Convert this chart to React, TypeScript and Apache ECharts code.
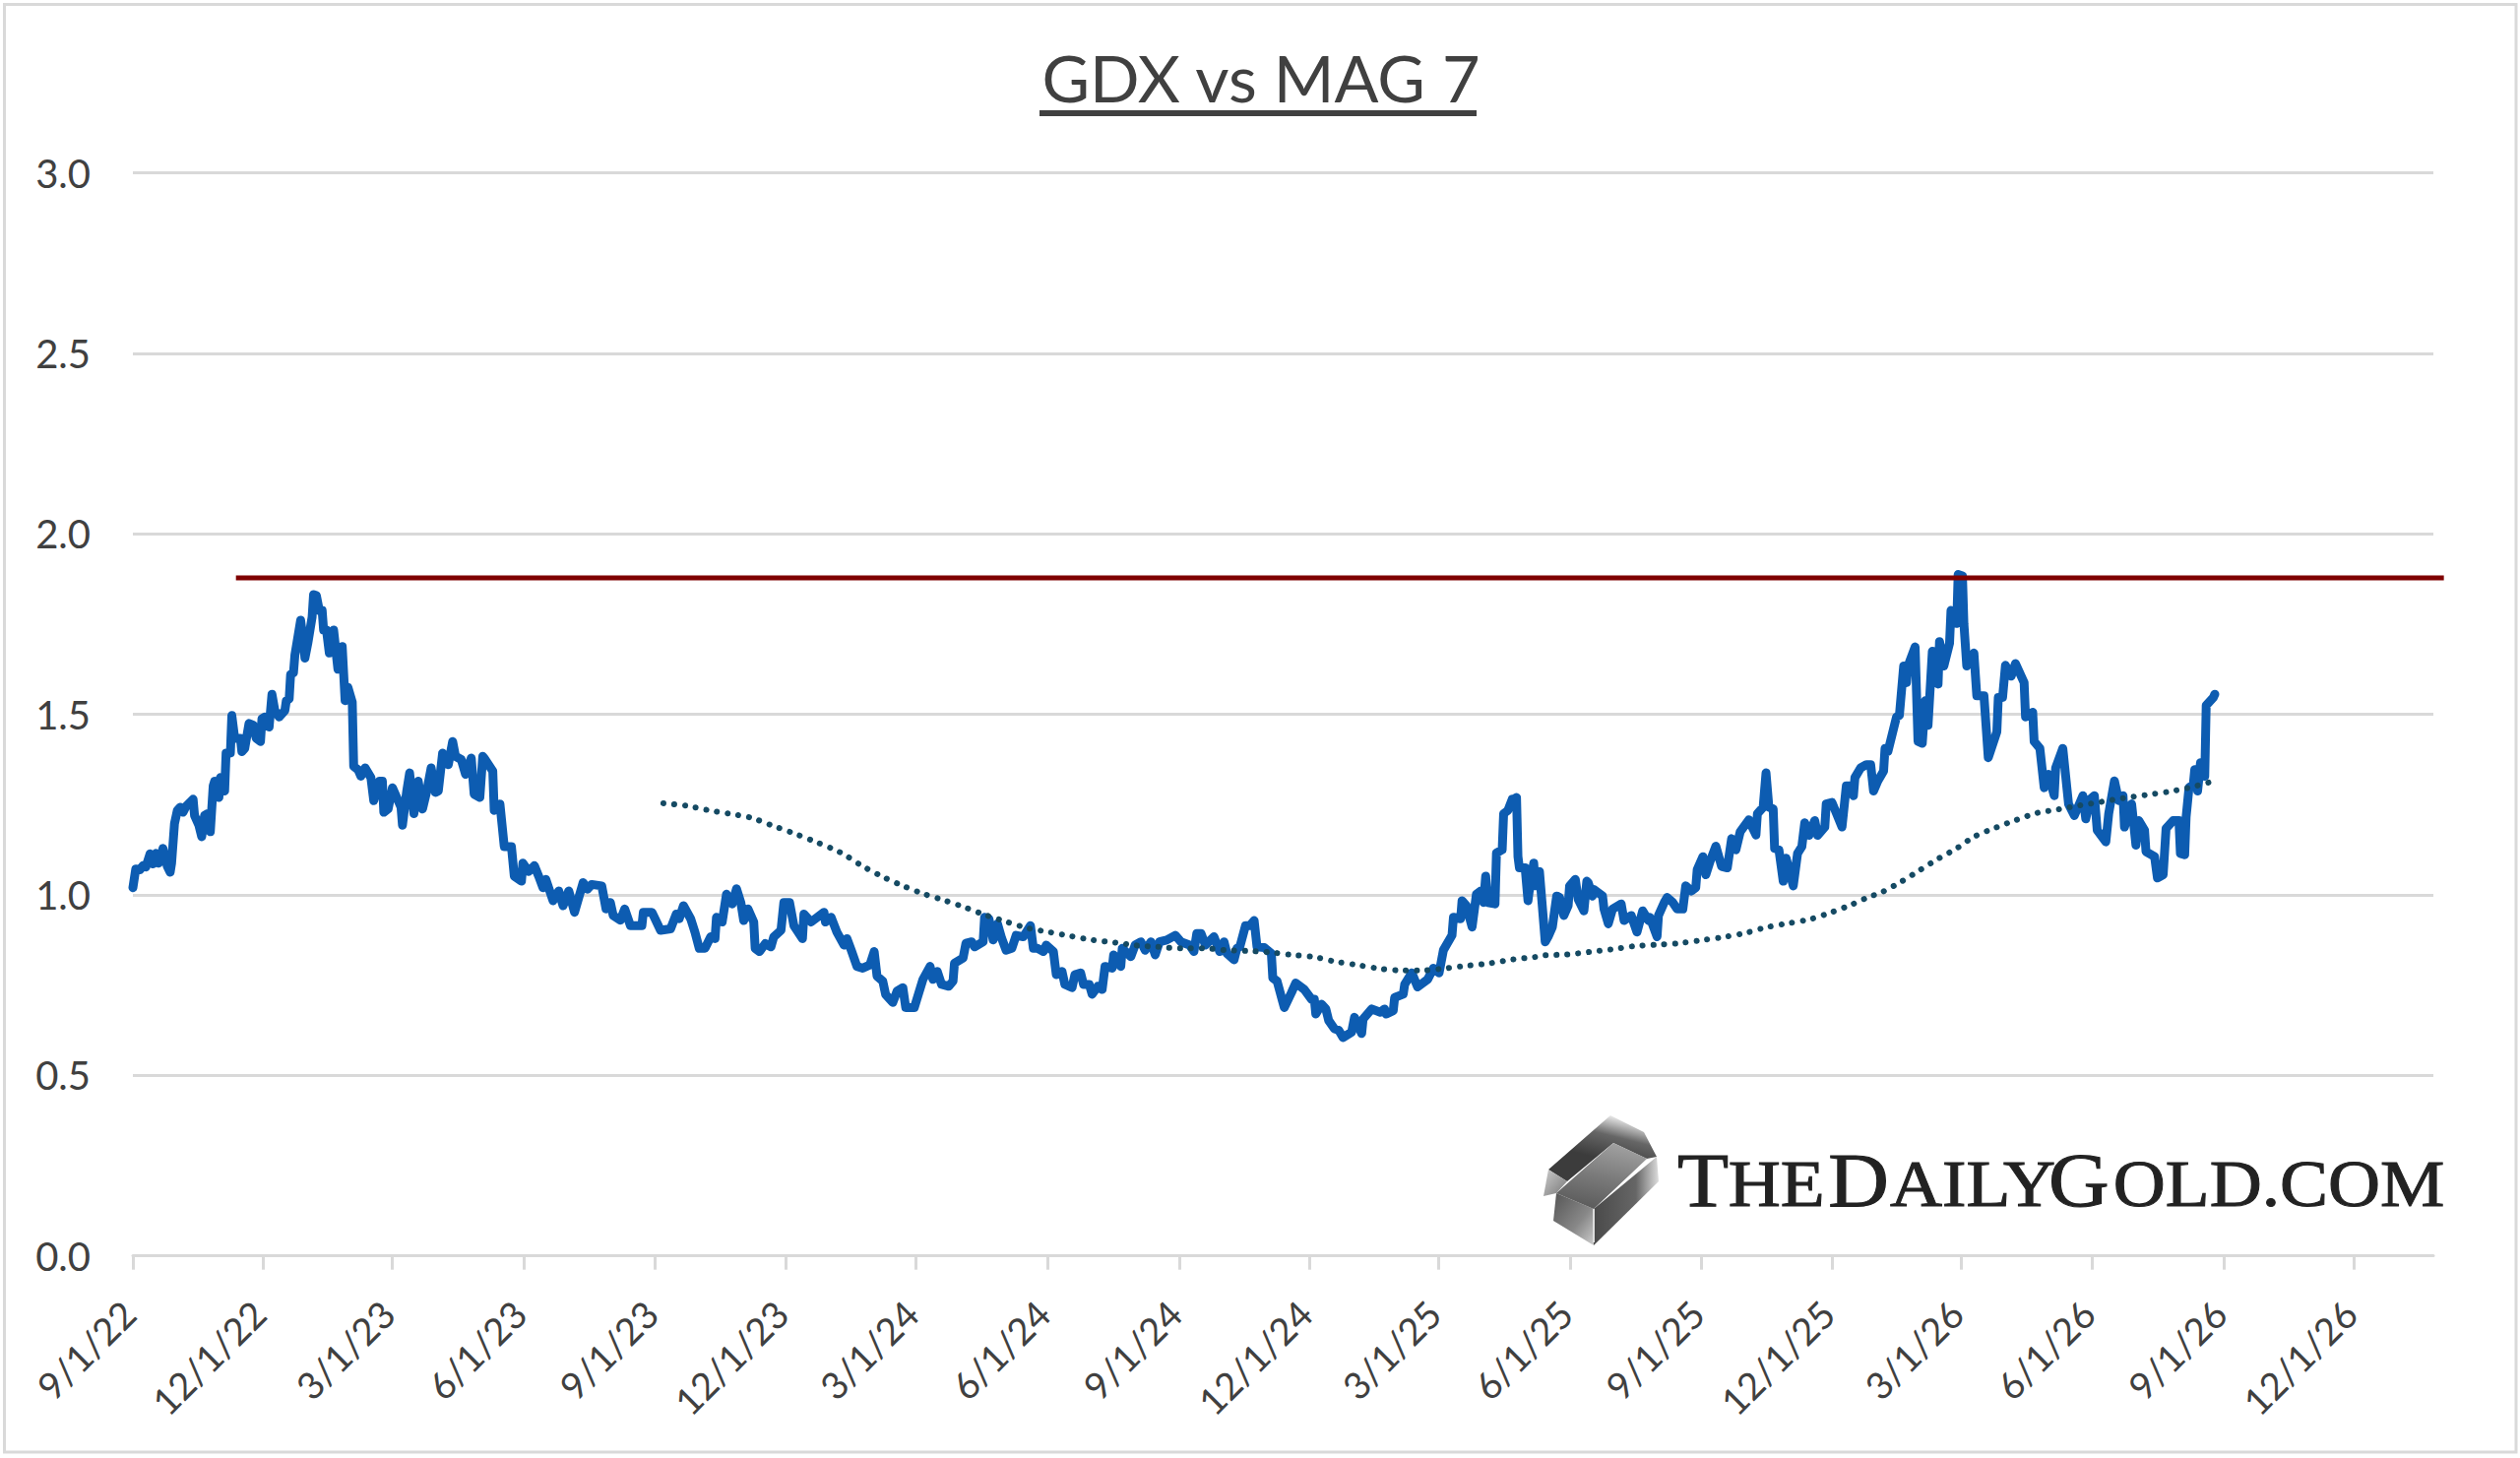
import React, { useEffect, useRef } from "react";
import * as echarts from "echarts";

const TITLE = "GDX vs MAG 7";
const FONT = "Lato";
const xTickDays = [0, 91, 181, 273, 365, 456, 547, 639, 731, 822, 912, 1004, 1096, 1187, 1277, 1369, 1461, 1552];
const xTickLabels = ["9/1/22", "12/1/22", "3/1/23", "6/1/23", "9/1/23", "12/1/23", "3/1/24", "6/1/24", "9/1/24", "12/1/24", "3/1/25", "6/1/25", "9/1/25", "12/1/25", "3/1/26", "6/1/26", "9/1/26", "12/1/26"];
const AXIS_END_DAY = 1607.2;
const RESISTANCE_AXIS_END_DAY = 1616.8;
// The readings below were taken on a slightly tighter day scale than the ticks use.
const READING_DAY_SCALE = 1.00172;

// [days since 9/1/22, ratio]
const gdxVsMag7: [number, number][] = [
  [0,1.02],[2,1.072],[5,1.07],[7,1.081],[9,1.077],[12,1.114],[14,1.086],[16,1.115],[18,1.088],[21,1.129],[24,1.079],[26,1.063],[27,1.088],[29,1.197],[31,1.234],[33,1.243],[35,1.229],[37,1.245],[42,1.265],[43,1.22],[46,1.193],[48,1.161],[50,1.22],[52,1.225],[54,1.175],[56,1.302],[57,1.315],[60,1.27],[61,1.325],[64,1.288],[65,1.393],[68,1.393],[69,1.497],[71,1.434],[75,1.434],[76,1.397],[78,1.406],[81,1.475],[84,1.47],[86,1.434],[89,1.425],[90,1.488],[92,1.493],[93,1.47],[95,1.465],[97,1.556],[99,1.511],[102,1.493],[106,1.511],[107,1.538],[109,1.543],[110,1.611],[112,1.615],[113,1.665],[117,1.761],[119,1.697],[120,1.656],[122,1.697],[125,1.77],[126,1.832],[128,1.829],[130,1.788],[132,1.788],[133,1.734],[135,1.734],[137,1.67],[140,1.734],[143,1.625],[146,1.688],[148,1.538],[150,1.575],[153,1.534],[154,1.356],[157,1.347],[159,1.329],[162,1.352],[166,1.325],[168,1.261],[172,1.315],[174,1.315],[175,1.229],[178,1.238],[181,1.297],[184,1.27],[187,1.243],[188,1.193],[191,1.288],[193,1.338],[196,1.225],[199,1.315],[202,1.238],[205,1.288],[208,1.352],[211,1.284],[213,1.288],[216,1.393],[220,1.361],[223,1.425],[225,1.384],[229,1.375],[232,1.334],[236,1.379],[238,1.279],[242,1.27],[244,1.384],
  [245,1.379],[251,1.343],[252,1.234],[256,1.252],[259,1.134],[264,1.134],[266,1.052],[271,1.038],[272,1.088],[276,1.065],[280,1.081],[283,1.052],[286,1.02],[288,1.043],[293,0.984],[297,1.011],[300,0.97],[304,1.011],[308,0.952],[314,1.034],[317,1.016],[320,1.029],[327,1.025],[330,0.961],[333,0.979],[335,0.943],[340,0.93],[343,0.961],[347,0.915],[355,0.915],[356,0.952],[362,0.952],[368,0.902],[375,0.906],[379,0.947],[381,0.934],[384,0.97],[389,0.934],[392,0.897],[395,0.852],[399,0.852],[403,0.884],[406,0.879],[407,0.938],[411,0.925],[414,1.002],[418,0.975],[421,1.017],[424,0.979],[426,0.929],[429,0.961],[433,0.925],[434,0.852],[437,0.843],[441,0.865],[445,0.856],[447,0.884],[452,0.902],[454,0.979],[458,0.979],[461,0.915],[467,0.879],[468,0.947],[473,0.925],[482,0.952],[483,0.925],[487,0.938],[491,0.897],
  [496,0.861],[498,0.879],[501,0.847],[505,0.802],[509,0.797],[514,0.806],[517,0.843],[519,0.775],[523,0.761],[525,0.724],[530,0.702],[533,0.734],[537,0.743],[539,0.688],[545,0.688],[551,0.766],[556,0.802],[558,0.766],[561,0.788],[564,0.752],[569,0.747],[572,0.761],[573,0.811],[579,0.825],[581,0.866],[585,0.87],[587,0.856],[593,0.87],[594,0.938],[597,0.934],[600,0.875],[603,0.92],[606,0.879],[609,0.847],[613,0.852],[616,0.888],[621,0.884],[626,0.915],[628,0.852],[631,0.852],[635,0.843],[637,0.861],[642,0.843],[644,0.779],[648,0.788],[650,0.752],[655,0.743],[657,0.779],[661,0.784],[663,0.752],[667,0.752],[669,0.725],[673,0.747],[676,0.738],[678,0.802],[683,0.797],[684,0.834],[689,0.802],[690,0.852],[696,0.829],[699,0.861],[703,0.87],[706,0.847],[710,0.87],[713,0.834],[716,0.87],[721,0.875],[727,0.888],[731,0.87],[737,0.861],
  [740,0.843],[742,0.893],[745,0.893],[748,0.861],[754,0.884],[758,0.843],[761,0.87],[763,0.838],[768,0.82],[770,0.852],[772,0.856],[776,0.915],[779,0.915],[782,0.929],[784,0.856],[789,0.854],[794,0.838],[795,0.77],[798,0.761],[803,0.688],[808,0.729],[811,0.756],[817,0.738],[822,0.711],[824,0.711],[825,0.67],[829,0.697],[832,0.684],[834,0.652],[838,0.629],[841,0.625],[844,0.605],[850,0.62],[852,0.661],[857,0.616],[858,0.656],[864,0.684],[870,0.675],[873,0.684],[874,0.67],[879,0.679],[880,0.716],[886,0.725],[887,0.752],[892,0.784],[896,0.745],[903,0.766],[907,0.797],[911,0.784],[914,0.847],[920,0.888],[921,0.938],[926,0.934],[927,0.984],[930,0.97],[934,0.911],[937,1.002],[940,1.011],[942,0.979],[943.5,1.052],[945,0.979],[950,0.975],[951,1.116],[955,1.125],[956,1.225],[959,1.234],[962,1.265],[963,1.265],
  [965,1.27],[966,1.106],[967,1.075],[971,1.075],[973,0.984],[974,1.015],[977,1.088],[978,1.025],[981,1.065],[985,0.87],[987,0.884],[990,0.911],[993,0.997],[995,0.993],[998,0.943],[1001,0.97],[1002,1.025],[1006,1.043],[1008,0.988],[1012,0.956],[1014,1.038],[1015,1.034],[1018,0.997],[1019,1.015],[1025,0.997],[1026,0.961],[1029,0.92],[1032,0.961],[1038,0.975],[1040,0.929],[1045,0.943],[1049,0.897],[1053,0.956],[1057,0.929],[1058,0.938],[1063,0.884],[1064,0.943],[1068,0.979],[1070,0.993],[1074,0.979],[1077,0.961],[1081,0.961],[1083,1.025],[1087,1.011],[1090,1.02],[1091,1.07],[1095,1.106],[1097,1.056],[1100,1.093],[1104,1.135],[1108,1.079],[1112,1.075],[1115,1.156],[1118,1.125],[1121,1.175],[1127,1.208],[1132,1.166],[1133,1.225],[1137,1.243],[1139,1.338],[1141,1.243],[1144,1.238],[1145,1.129],[1148,1.125],[1151,1.038],[1153,1.102],[1158,1.025],[1161,1.115],[1164,1.134],[1166,1.2],[1169,1.165],[1173,1.206],[1175,1.165],[1180,1.188],[1181,1.252],[1185,1.256],[1192,1.188],[1195,1.302],[1198,1.302],[1200,1.275],[1201,1.325],[1205,1.352],[1209,1.361],
  [1212,1.361],[1214,1.288],[1217,1.316],[1221,1.343],[1222,1.406],[1224,1.397],[1228,1.461],[1230,1.493],[1232,1.497],[1235,1.634],[1237,1.588],[1238,1.634],[1243,1.687],[1245,1.425],[1248,1.42],[1250,1.538],[1252,1.47],[1255,1.675],[1259,1.584],[1260,1.702],[1263,1.634],[1267,1.697],[1268,1.788],[1272,1.752],[1273,1.888],[1276,1.884],[1277,1.752],[1279,1.634],[1284,1.67],[1286,1.552],[1291,1.552],[1294,1.38],[1300,1.452],[1301,1.547],[1304,1.547],[1306,1.636],[1310,1.606],[1313,1.641],[1319,1.588],[1320,1.493],[1325,1.506],[1326,1.425],[1330,1.406],[1333,1.297],[1336,1.334],[1340,1.275],[1341,1.352],[1346,1.406],[1350,1.252],[1354,1.22],[1357,1.247],[1360,1.275],[1362,1.211],[1365,1.265],[1368,1.275],[1370,1.179],[1376,1.147],[1378,1.225],[1382,1.316],[1385,1.261],[1388,1.275],[1389,1.188],[1394,1.252],[1397,1.138],[1399,1.206],[1403,1.179],[1404,1.12],[1410,1.106],[1412,1.047],[1416,1.056],[1418,1.184],[1423,1.206],[1427,1.206],[1428,1.115],[1431,1.111],[1432,1.216],[1434,1.297],[1437,1.306],[1438,1.347],[1440,1.288],[1442,1.366],[1445,1.329],[1446,1.525],[1451,1.547],[1452,1.556],
];

const movingAverage: [number, number][] = [
  [370,1.254],[386,1.247],[401,1.235],[416,1.225],[431,1.214],[446,1.192],[460,1.172],[475,1.149],[489,1.126],[496,1.112],[508,1.082],[522,1.052],[536,1.027],[550,1.005],[565,0.986],[580,0.966],[594,0.945],[609,0.926],[624,0.908],[639,0.897],[654,0.886],[669,0.875],[685,0.868],[700,0.86],[715,0.856],[731,0.852],[747,0.852],[762,0.847],[777,0.845],[793,0.841],[808,0.834],[824,0.828],[839,0.815],[854,0.806],[869,0.796],[885,0.791],[900,0.791],[916,0.797],[931,0.804],[947,0.811],[962,0.821],[978,0.828],[985,0.833],[1000,0.835],[1016,0.842],[1031,0.849],[1047,0.858],[1062,0.862],[1078,0.866],[1093,0.874],[1109,0.883],[1124,0.894],[1139,0.91],[1154,0.921],[1169,0.932],[1184,0.951],[1198,0.972],[1211,0.995],[1219,1.006],[1233,1.036],[1246,1.068],[1259,1.1],[1272,1.129],[1284,1.161],[1299,1.186],[1313,1.207],[1328,1.227],[1343,1.237],[1358,1.248],[1373,1.258],[1388,1.268],[1404,1.277],[1420,1.286],[1434,1.297],[1450,1.314],
];

const resistance: [number, number][] = [[72, 1.878], [1614.5, 1.878]];

const rescale = (rows: [number, number][]) => rows.map(([d, v]) => [d * READING_DAY_SCALE, v]);

const grad = (x: number, y: number, x2: number, y2: number, stops: [number, string][]) =>
  new echarts.graphic.LinearGradient(x, y, x2, y2, stops.map(([offset, color]) => ({ offset, color })));

const logoGraphic = (): any[] => {
  const base = 1225, big = 79, small = 68;
  const pieces: [string, number, number][] = [
    ["T", 0, big], ["HE", 48, small], ["D", 142, big], ["AILY", 200, small], ["G", 349, big], ["OLD.COM", 410, small],
  ];
  return [
    { type: "polygon", shape: { points: [[1636,1133],[1670,1150],[1683,1175],[1673,1177],[1639,1161],[1592,1200],[1573,1188]] }, style: { fill: grad(0.6, 0, 0.35, 0.6, [[0, "#eeeeee"], [0.45, "#666666"], [1, "#3c3c3c"]]) } },
    { type: "polygon", shape: { points: [[1573,1188],[1592,1200],[1581,1212],[1568,1215]] }, style: { fill: grad(0, 0, 1, 1, [[0, "#cccccc"], [1, "#777777"]]) } },
    { type: "polygon", shape: { points: [[1581,1212],[1619,1228],[1619,1265],[1578,1240]] }, style: { fill: grad(0, 0, 1, 1, [[0, "#555555"], [0.6, "#888888"], [1, "#cccccc"]]) } },
    { type: "polygon", shape: { points: [[1619,1228],[1683,1175],[1685,1200],[1619,1265]] }, style: { fill: grad(0, 0, 1, 0, [[0, "#4a4a4a"], [0.65, "#666666"], [1, "#dddddd"]]) } },
    { type: "polygon", shape: { points: [[1639,1161],[1673,1177],[1619,1228],[1581,1212]] }, style: { fill: grad(0.6, 0, 0.3, 1, [[0, "#a0a0a0"], [0.5, "#7a7a7a"], [1, "#5a5a5a"]]) } },
    { type: "polyline", shape: { points: [[1619,1228],[1619,1262]] }, style: { stroke: "#dddddd", lineWidth: 2, fill: "none" } },
    {
      type: "group", x: 1704, y: 0, scaleX: 1.08,
      children: pieces.map(([text, x, fs]) => ({
        type: "text", x, y: base - 0.3375 * fs,
        style: { text, fontFamily: "Liberation Serif", fontSize: fs, fill: "#222222", stroke: "#222222", lineWidth: 1, textAlign: "left", textVerticalAlign: "middle" },
      })),
    },
  ];
};

export default function App() {
  const ref = useRef<HTMLDivElement>(null);
  useEffect(() => {
    const chart = echarts.init(ref.current!, undefined, { renderer: "svg" });
    chart.setOption({
      animation: false,
      backgroundColor: "#ffffff",
      title: {
        text: TITLE, left: 1276, top: 39, textAlign: "center",
        textStyle: { fontFamily: FONT, fontSize: 66.5, fontWeight: "normal", color: "#404040" },
      },
      grid: [
        { left: 135, top: 175.7, width: 2337, height: 1100 },
        { left: 135, top: 175.7, width: 2351, height: 1100 },
      ],
      xAxis: [
        {
          type: "value", gridIndex: 0, min: 0, max: AXIS_END_DAY, splitLine: { show: false },
          axisLine: { lineStyle: { color: "#d9d9d9", width: 3 } },
          axisTick: { show: true, length: 14, customValues: xTickDays, lineStyle: { color: "#d9d9d9", width: 3 } },
          axisLabel: {
            customValues: xTickDays, rotate: 45, margin: 48, padding: [0, 6, 0, 0], fontFamily: FONT, fontSize: 38, color: "#404040",
            formatter: (v: number) => xTickLabels[xTickDays.indexOf(v)] ?? "",
          },
        },
        { type: "value", gridIndex: 1, min: 0, max: RESISTANCE_AXIS_END_DAY, show: false },
      ],
      yAxis: [
        {
          type: "value", gridIndex: 0, min: 0, max: 3, interval: 0.5,
          axisLine: { show: false }, axisTick: { show: false },
          splitLine: { lineStyle: { color: "#d9d9d9", width: 3 } },
          axisLabel: { margin: 43, fontFamily: FONT, fontSize: 40, color: "#404040", formatter: (v: number) => v.toFixed(1) },
        },
        { type: "value", gridIndex: 1, min: 0, max: 3, interval: 0.5, show: false },
      ],
      series: [
        { type: "line", name: "GDX vs MAG 7", data: rescale(gdxVsMag7), showSymbol: false, lineStyle: { color: "#0d5cb1", width: 9, join: "round", cap: "round" } },
        { type: "line", name: "Moving average", data: rescale(movingAverage), showSymbol: false, smooth: 0.3, lineStyle: { color: "#154a63", width: 6, type: [0.1, 10.9], cap: "round" } },
        { type: "line", name: "Resistance", xAxisIndex: 1, yAxisIndex: 1, data: resistance, showSymbol: false, lineStyle: { color: "#7f0000", width: 5 } },
      ],
      graphic: [
        { type: "rect", shape: { x: 4.5, y: 4.5, width: 2551.5, height: 1470.5 }, style: { fill: "none", stroke: "#d9d9d9", lineWidth: 3 }, z: -1 },
        { type: "rect", shape: { x: 1056, y: 112, width: 444, height: 6 }, style: { fill: "#404040" } },
        ...logoGraphic(),
      ],
    });
    return () => chart.dispose();
  }, []);
  return <div ref={ref} style={{ position: "absolute", left: 0, top: 0, width: 2560, height: 1481 }} />;
}
